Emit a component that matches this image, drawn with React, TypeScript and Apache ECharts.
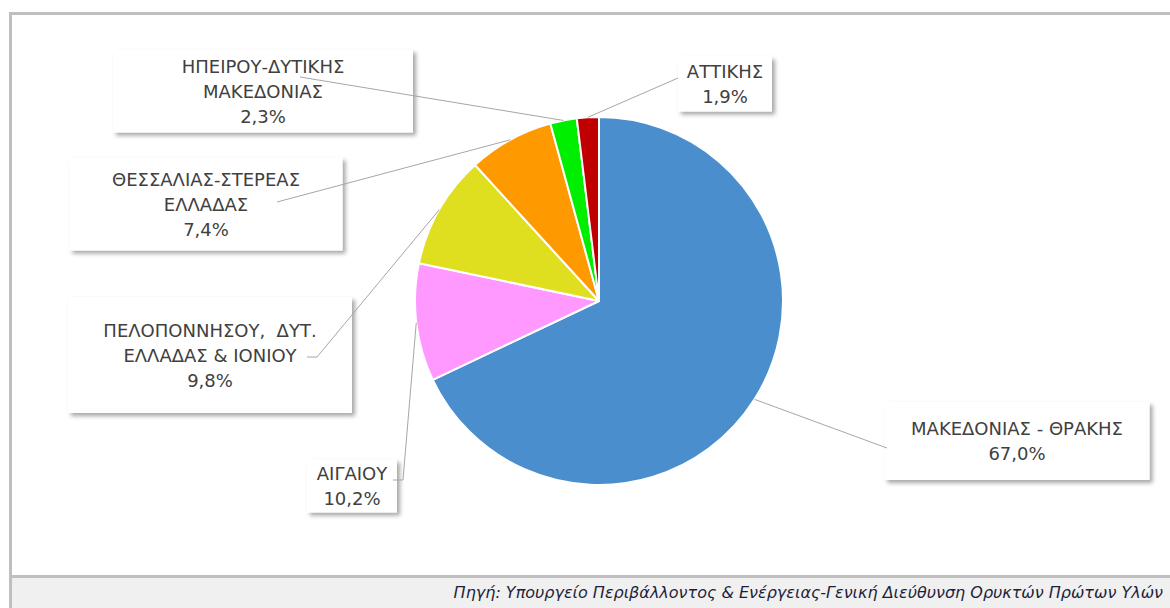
import React, { useEffect, useRef } from "react";
import * as echarts from "echarts";

// ---- data ----
const categories = [
  "ΜΑΚΕΔΟΝΙΑΣ - ΘΡΑΚΗΣ",
  "ΑΙΓΑΙΟΥ",
  "ΠΕΛΟΠΟΝΝΗΣΟΥ,  ΔΥΤ.\nΕΛΛΑΔΑΣ & ΙΟΝΙΟΥ",
  "ΘΕΣΣΑΛΙΑΣ-ΣΤΕΡΕΑΣ\nΕΛΛΑΔΑΣ",
  "ΗΠΕΙΡΟΥ-ΔΥΤΙΚΗΣ\nΜΑΚΕΔΟΝΙΑΣ",
  "ΑΤΤΙΚΗΣ",
];
const values = [67.0, 10.2, 9.8, 7.4, 2.3, 1.9];
const sourceText =
  "Πηγή: Υπουργείο Περιβάλλοντος & Ενέργειας-Γενική Διεύθυνση Ορυκτών Πρώτων Υλών";

// ---- styles / layout ----
const colors = ["#4a8ecd", "#ff99ff", "#dfdf20", "#ff9900", "#00ee00", "#c00000"];
// label boxes: centre x, centre y, width, height
const boxes = [
  { cx: 1017, cy: 441, w: 265, h: 78 },
  { cx: 352, cy: 486, w: 90, h: 53 },
  { cx: 210, cy: 355, w: 284, h: 116 },
  { cx: 206, cy: 204, w: 273, h: 93 },
  { cx: 263, cy: 91, w: 300, h: 83 },
  { cx: 725, cy: 84, w: 94, h: 55 },
];
// where leader lines end (after optional elbow)
const leaderEnds: number[][][] = [
  [[887, 448]],
  [[403, 480], [393, 480]],
  [[317, 357], [307, 357]],
  [[277, 202]],
  [[300, 77]],
  [[678, 78]],
];
const LINE_H = 25;
const FONT = "DejaVu Sans";

export default function App() {
  const ref = useRef<HTMLDivElement>(null);
  useEffect(() => {
    if (!ref.current) return;
    const chart = echarts.init(ref.current, undefined, { renderer: "svg" });
    const data = categories.map((name, i) => {
      const b = boxes[i];
      const lines = name.split("\n").length + 1;
      const padV = Math.max(0, (b.h - lines * LINE_H) / 2);
      const padH = 6;
      return {
        name,
        value: values[i],
        itemStyle: { color: colors[i] },
        label: {
          width: b.w - padH * 2,
          padding: [padV, padH, padV, padH],
        },
      };
    });
    const guideData = categories.map((name, i) => ({ name, value: values[i] }));
    const layoutFn = (withLine: boolean) => (params: any) => {
      const b = boxes[params.dataIndex];
      const start = params.labelLinePoints ? params.labelLinePoints[0] : [0, 0];
      const out: any = { x: b.cx, y: b.cy, align: "center", verticalAlign: "middle" };
      if (withLine) out.labelLinePoints = [start, ...leaderEnds[params.dataIndex]];
      return out;
    };
    chart.setOption({
      animation: false,
      graphic: [
        {
          type: "rect",
          z: -10,
          shape: { x: 10.5, y: 13.5, width: 1200, height: 700 },
          style: { fill: "#ffffff", stroke: "#bfbfbf", lineWidth: 3 },
        },
        {
          type: "rect",
          z: -9,
          shape: { x: 10.5, y: 576.5, width: 1200, height: 60 },
          style: { fill: "#f0f0f0", stroke: "#bfbfbf", lineWidth: 3 },
        },
        {
          type: "text",
          z: -8,
          x: 1163,
          y: 592,
          style: {
            text: sourceText,
            fontFamily: FONT,
            fontStyle: "italic",
            fontSize: 16,
            fill: "#1f1f3a",
            align: "right",
            verticalAlign: "middle",
          },
        },
      ],
      series: [
        {
          type: "pie",
          z: 2,
          center: [599, 301],
          radius: 184,
          startAngle: 90,
          clockwise: true,
          avoidLabelOverlap: false,
          itemStyle: { borderColor: "#ffffff", borderWidth: 2 },
          emphasis: { disabled: true },
          label: {
            show: true,
            position: "outside",
            fontFamily: FONT,
            fontSize: 18,
            color: "#404040",
            lineHeight: LINE_H,
            align: "center",
            backgroundColor: "#ffffff",
            shadowColor: "rgba(0,0,0,0.35)",
            shadowBlur: 4,
            shadowOffsetX: 3,
            shadowOffsetY: 3,
            formatter: (p: any) =>
              p.name + "\n" + p.value.toFixed(1).replace(".", ",") + "%",
          },
          labelLine: { show: false },
          labelLayout: layoutFn(false),
          data,
        },
        {
          // leader lines, drawn above the label boxes
          type: "pie",
          z: 5,
          silent: true,
          center: [599, 301],
          radius: 184,
          startAngle: 90,
          clockwise: true,
          avoidLabelOverlap: false,
          itemStyle: { color: "rgba(0,0,0,0)", borderWidth: 0 },
          emphasis: { disabled: true },
          label: {
            show: true,
            position: "outside",
            fontSize: 1,
            color: "rgba(0,0,0,0)",
            formatter: () => " ",
          },
          labelLine: {
            show: true,
            length: 10,
            length2: 10,
            lineStyle: { color: "#a6a6a6", width: 1 },
          },
          labelLayout: layoutFn(true),
          data: guideData,
        },
      ],
    });
    return () => chart.dispose();
  }, []);
  return (
    <div
      ref={ref}
      style={{ position: "absolute", left: 0, top: 0, width: 1170, height: 608 }}
    />
  );
}
